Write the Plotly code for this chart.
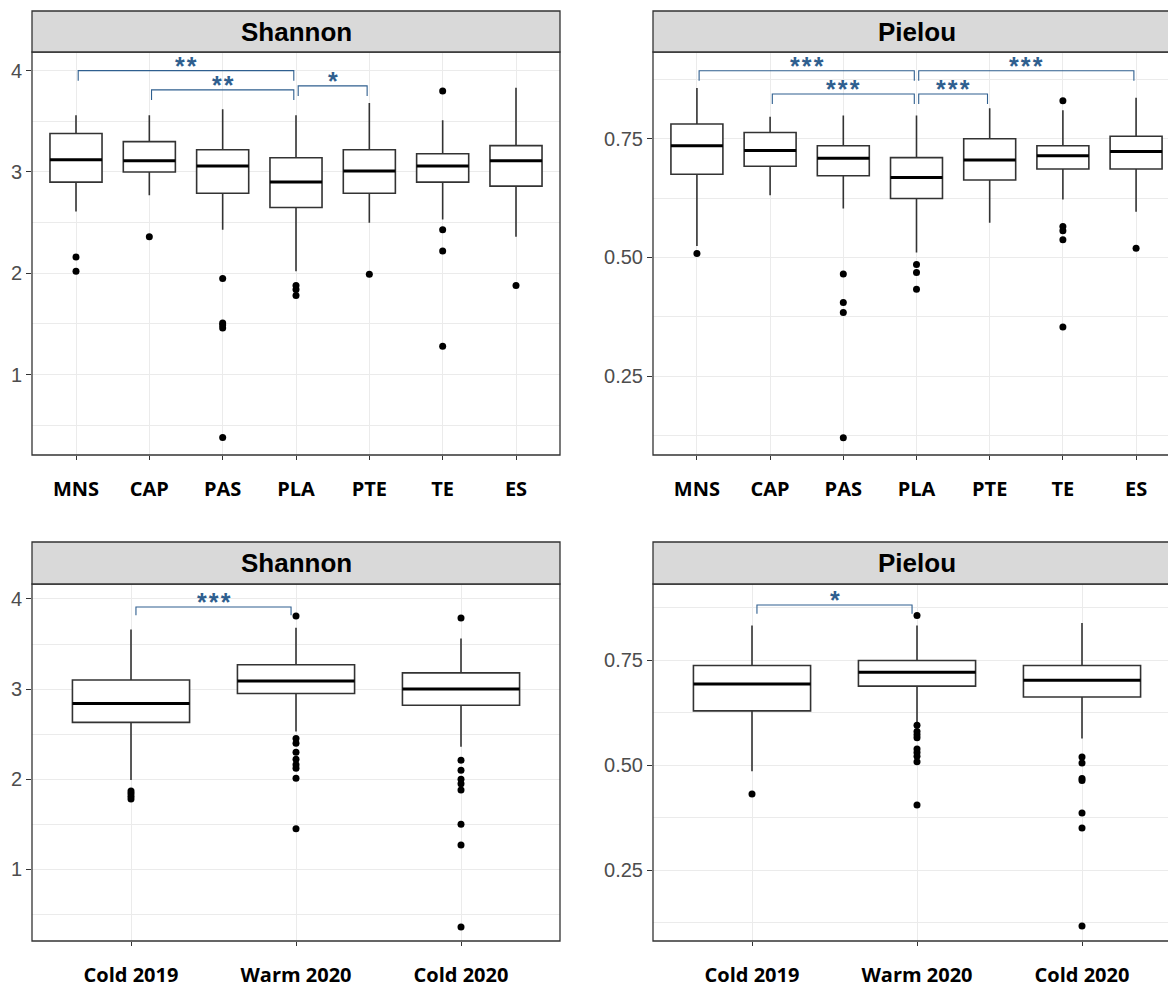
import plotly.graph_objects as go

# ---------------- data ----------------
sites = ["MNS", "CAP", "PAS", "PLA", "PTE", "TE", "ES"]
seasons = ["Cold 2019", "Warm 2020", "Cold 2020"]

sh_site_low = [2.61, 2.77, 2.43, 2.02, 2.50, 2.53, 2.36]
sh_site_q1 = [2.90, 3.00, 2.79, 2.65, 2.79, 2.90, 2.86]
sh_site_med = [3.12, 3.11, 3.06, 2.90, 3.01, 3.06, 3.11]
sh_site_q3 = [3.38, 3.30, 3.22, 3.14, 3.22, 3.18, 3.26]
sh_site_high = [3.56, 3.56, 3.62, 3.56, 3.68, 3.51, 3.83]
sh_site_out = [[2.16, 2.02], [2.36], [1.95, 1.51, 1.49, 1.46, 0.38],
               [1.88, 1.84, 1.78], [1.99], [3.80, 2.43, 2.22, 1.28], [1.88]]

pi_site_low = [0.524, 0.631, 0.603, 0.510, 0.573, 0.622, 0.596]
pi_site_q1 = [0.675, 0.692, 0.672, 0.624, 0.663, 0.686, 0.686]
pi_site_med = [0.735, 0.725, 0.709, 0.668, 0.705, 0.714, 0.723]
pi_site_q3 = [0.781, 0.763, 0.735, 0.710, 0.750, 0.735, 0.755]
pi_site_high = [0.857, 0.796, 0.799, 0.799, 0.814, 0.810, 0.836]
pi_site_out = [[0.508], [], [0.465, 0.405, 0.384, 0.120], [0.485, 0.468, 0.433],
               [], [0.830, 0.565, 0.556, 0.537, 0.353], [0.519]]

sh_season_low = [1.99, 2.53, 2.36]
sh_season_q1 = [2.63, 2.95, 2.82]
sh_season_med = [2.84, 3.09, 3.00]
sh_season_q3 = [3.10, 3.27, 3.18]
sh_season_high = [3.66, 3.68, 3.56]
sh_season_out = [[1.87, 1.84, 1.81, 1.78],
                 [3.81, 2.45, 2.40, 2.30, 2.22, 2.16, 2.12, 2.01, 1.45],
                 [3.79, 2.21, 2.10, 2.00, 1.95, 1.88, 1.50, 1.27, 0.36]]

pi_season_low = [0.485, 0.600, 0.563]
pi_season_q1 = [0.629, 0.688, 0.662]
pi_season_med = [0.693, 0.721, 0.702]
pi_season_q3 = [0.737, 0.749, 0.737]
pi_season_high = [0.832, 0.832, 0.838]
pi_season_out = [[0.431],
                 [0.856, 0.595, 0.580, 0.572, 0.565, 0.538, 0.530, 0.521, 0.508, 0.405],
                 [0.519, 0.505, 0.468, 0.463, 0.386, 0.350, 0.117]]

sh_site_brackets = [("MNS", "PLA", 4.00, "**"), ("CAP", "PLA", 3.81, "**"), ("PLA", "PTE", 3.85, "*")]
pi_site_brackets = [("MNS", "PLA", 0.893, "***"), ("CAP", "PLA", 0.844, "***"),
                    ("PLA", "PTE", 0.844, "***"), ("PLA", "ES", 0.893, "***")]
sh_season_brackets = [("Cold 2019", "Warm 2020", 3.91, "***")]
pi_season_brackets = [("Cold 2019", "Warm 2020", 0.881, "*")]

# ---------------- style / layout ----------------
# page body has an 8px margin: the figure is placed at (8, 8) on the 1176x988 page;
# it is made wide enough to run past the right edge, like the cropped reference
OFF = 8
W, H = 1176, 988 - OFF
BOX_W = 0.71
BOX_LINE = "#333333"
SIG = "#2F5F8F"
GRID = "#EBEBEB"
AX_TXT = "#4D4D4D"


def px(x):
    return (x - OFF) / W


def py(y):
    return 1 - (y - OFF) / H


panels = [
    dict(cats=sites, low=sh_site_low, q1=sh_site_q1, med=sh_site_med, q3=sh_site_q3,
         high=sh_site_high, out=sh_site_out, br=sh_site_brackets, tip=0.10,
         yr=[0.207, 4.184], dt=1, fmt="", xr=[-0.6, 6.6], xpix=(32, 560), ypix=(52, 455),
         strip=(11, 52), title="Shannon"),
    dict(cats=sites, low=pi_site_low, q1=pi_site_q1, med=pi_site_med, q3=pi_site_q3,
         high=pi_site_high, out=pi_site_out, br=pi_site_brackets, tip=0.021,
         yr=[0.0836, 0.9326], dt=0.25, fmt=".2f", xr=[-0.6, 6.6], xpix=(653, 1180), ypix=(52, 455),
         strip=(11, 52), title="Pielou"),
    dict(cats=seasons, low=sh_season_low, q1=sh_season_q1, med=sh_season_med, q3=sh_season_q3,
         high=sh_season_high, out=sh_season_out, br=sh_season_brackets, tip=0.09,
         yr=[0.204, 4.166], dt=1, fmt="", xr=[-0.6, 2.6], xpix=(32, 560), ypix=(584, 941),
         strip=(542, 584), title="Shannon"),
    dict(cats=seasons, low=pi_season_low, q1=pi_season_q1, med=pi_season_med, q3=pi_season_q3,
         high=pi_season_high, out=pi_season_out, br=pi_season_brackets, tip=0.021,
         yr=[0.0812, 0.931], dt=0.25, fmt=".2f", xr=[-0.6, 2.6], xpix=(653, 1181), ypix=(584, 941),
         strip=(542, 584), title="Pielou"),
]

fig = go.Figure()
shapes = []
annotations = []
layout = {}

for k, p in enumerate(panels, start=1):
    xa = "x" if k == 1 else f"x{k}"
    ya = "y" if k == 1 else f"y{k}"
    pos = list(range(len(p["cats"])))

    fig.add_trace(go.Box(
        x=pos, q1=p["q1"], median=p["med"], q3=p["q3"],
        lowerfence=p["low"], upperfence=p["high"], orientation="v",
        width=BOX_W, whiskerwidth=0, boxpoints=False,
        fillcolor="white", line=dict(color=BOX_LINE, width=1.6),
        xaxis=xa, yaxis=ya, showlegend=False, hoverinfo="skip"))

    # thick median bars
    mx, my = [], []
    for i, m in zip(pos, p["med"]):
        mx += [i - BOX_W / 2, i + BOX_W / 2, None]
        my += [m, m, None]
    fig.add_trace(go.Scatter(x=mx, y=my, mode="lines", line=dict(color="black", width=3),
                             xaxis=xa, yaxis=ya, showlegend=False, hoverinfo="skip"))

    # outliers
    ox, oy = [], []
    for i, vals in zip(pos, p["out"]):
        ox += [i] * len(vals)
        oy += vals
    fig.add_trace(go.Scatter(x=ox, y=oy, mode="markers", marker=dict(color="black", size=7),
                             xaxis=xa, yaxis=ya, showlegend=False, hoverinfo="skip"))

    # significance brackets
    for a, b, yv, lab in p["br"]:
        i1, i2 = p["cats"].index(a) + 0.03, p["cats"].index(b) - 0.03
        fig.add_trace(go.Scatter(x=[i1, i1, i2, i2], y=[yv - p["tip"], yv, yv, yv - p["tip"]],
                                 mode="lines", line=dict(color=SIG, width=1.1),
                                 xaxis=xa, yaxis=ya, showlegend=False, hoverinfo="skip"))
        annotations.append(dict(x=(i1 + i2) / 2, y=yv, xref=xa, yref=ya,
                                text="\u200a".join(lab),
                                showarrow=False, yanchor="bottom", yshift=-11,
                                font=dict(family="Liberation Sans, Arial", size=25, color=SIG, weight="bold")))

    x0, x1 = p["xpix"]
    y0, y1 = p["ypix"]
    layout["xaxis" if k == 1 else f"xaxis{k}"] = dict(
        domain=[px(x0), px(x1)], anchor=ya, range=p["xr"],
        tickmode="array", tickvals=pos, ticktext=p["cats"],
        ticks="outside", ticklen=4, tickcolor="#333333", tickwidth=1,
        ticklabelstandoff=12,
        tickfont=dict(family="Open Sans, Lato, sans-serif", size=20, color="black", weight="bold"),
        showgrid=True, gridcolor=GRID, gridwidth=1, zeroline=False, showline=False)
    layout["yaxis" if k == 1 else f"yaxis{k}"] = dict(
        domain=[py(y1), py(y0)], anchor=xa, range=p["yr"],
        tickmode="linear", tick0=0, dtick=p["dt"], tickformat=p["fmt"],
        ticks="outside", ticklen=5, tickcolor="#333333", tickwidth=1,
        tickfont=dict(family="Liberation Sans, Arial", size=20, color=AX_TXT),
        showgrid=True, gridcolor=GRID, gridwidth=1.3,
        minor=dict(dtick=p["dt"] / 2, tick0=0, showgrid=True, gridcolor=GRID, gridwidth=0.8, ticks=""),
        zeroline=False, showline=False)

    # panel border
    shapes.append(dict(type="rect", xref="paper", yref="paper",
                       x0=px(x0), x1=px(x1), y0=py(y1), y1=py(y0),
                       line=dict(color="#333333", width=1.3), fillcolor="rgba(0,0,0,0)", layer="above"))
    # strip
    s0, s1 = p["strip"]
    shapes.append(dict(type="rect", xref="paper", yref="paper",
                       x0=px(x0), x1=px(x1), y0=py(s1), y1=py(s0),
                       line=dict(color="#333333", width=1.3), fillcolor="#D9D9D9", layer="above"))
    annotations.append(dict(x=px((x0 + x1) / 2), y=py((s0 + s1) / 2), xref="paper", yref="paper",
                            text=p["title"], showarrow=False, xanchor="center", yanchor="middle",
                            font=dict(family="Liberation Sans, Arial", size=26, color="black", weight="bold")))

fig.update_layout(
    width=W, height=H, margin=dict(l=0, r=0, t=0, b=0),
    paper_bgcolor="white", plot_bgcolor="white",
    shapes=shapes, annotations=annotations, showlegend=False, **layout)

fig.write_html("out.html")
